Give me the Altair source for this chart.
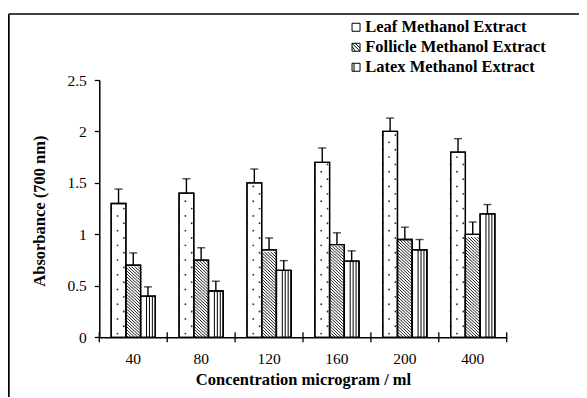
import math
import altair as alt
import pandas as pd

# ---------------- data ----------------
concentrations = ["40", "80", "120", "160", "200", "400"]
series_names = ["Leaf Methanol Extract", "Follicle Methanol Extract", "Latex Methanol Extract"]
leaf = [1.30, 1.40, 1.50, 1.70, 2.00, 1.80]
leaf_err = [0.14, 0.14, 0.135, 0.14, 0.13, 0.13]
follicle = [0.70, 0.75, 0.85, 0.90, 0.95, 1.00]
follicle_err = [0.12, 0.12, 0.115, 0.115, 0.12, 0.12]
latex = [0.40, 0.45, 0.65, 0.74, 0.85, 1.20]
latex_err = [0.09, 0.095, 0.095, 0.10, 0.10, 0.09]
y_ticks = [0, 0.5, 1, 1.5, 2, 2.5]

# ---------------- geometry ----------------
W, H, YMAX = 407.4, 257.3, 2.5
PAD_IN, PAD_OUT = 0.35, 0.175
step = W / (len(concentrations) - PAD_IN + 2 * PAD_OUT)
bar_w = step * (1 - PAD_IN) / 3
K = 5
slot_w = bar_w / K
px_per_unit = H / YMAX
slots = list(range(3 * K))

values = [leaf, follicle, latex]
errors = [leaf_err, follicle_err, latex_err]
rows = []
for s, name in enumerate(series_names):
    for i, c in enumerate(concentrations):
        v = values[s][i]
        e = errors[s][i]
        rows.append({"conc": c, "series": name, "value": v, "top": v + e})
main = pd.DataFrame(rows)
cats = pd.DataFrame({"conc": concentrations})

# pattern table (derived from the values)
prow = []
h_u = slot_w / px_per_unit
for i, c in enumerate(concentrations):
    v = follicle[i]
    n = int(math.floor(v / h_u))
    for r in range(n):
        for k in range(K):
            prow.append({"conc": c, "slot": 1 * K + k, "y": (r + 0.5) * h_u, "kind": "hatch"})
    v = leaf[i]
    d_u = (bar_w / 2) / px_per_unit
    j = 0
    while (j + 0.5) * d_u < v - 0.02:
        y = (j + 0.5) * d_u
        if j % 2 == 0:
            prow.append({"conc": c, "slot": 2, "y": y, "kind": "dot"})
        else:
            prow.append({"conc": c, "slot": 0, "y": y, "kind": "dot"})
            prow.append({"conc": c, "slot": K - 1, "y": y, "kind": "dot"})
        j += 1
    v = latex[i]
    for k in (2, 4):
        prow.append({"conc": c, "slot": 2 * K + k, "y": v, "kind": "stripe"})
pattern = pd.DataFrame(prow)

FONT = "Liberation Serif"

x_scale = alt.Scale(domain=concentrations, paddingInner=PAD_IN, paddingOuter=PAD_OUT)
y_scale = alt.Scale(domain=[0, YMAX], nice=False, zero=True)
off_series = alt.XOffset("series:N", scale=alt.Scale(domain=series_names, paddingInner=0, paddingOuter=0))
off_slot = alt.XOffset("slot:O", scale=alt.Scale(domain=slots, paddingInner=0, paddingOuter=0))

x_bottom = alt.X(
    "conc:N", scale=x_scale, sort=concentrations,
    axis=alt.Axis(
        orient="bottom", ticks=False, domainColor="black", domainWidth=1.5, labelAngle=0,
        labelPadding=14, labelFont=FONT, labelFontSize=15.5, labelColor="black",
        labelBaseline="top",
        title="Concentration microgram / ml", titleFont=FONT, titleFontSize=16.5,
        titleFontWeight="bold", titleColor="black", titleY=42, titleBaseline="middle",
    ),
)
x_none = alt.X("conc:N", scale=x_scale, sort=concentrations, axis=None)

y_axis = alt.Axis(
    values=y_ticks, format="~g", grid=False, ticks=True, tickSize=5, tickColor="black",
    tickWidth=1.3, domainColor="black", domainWidth=1.5, labelPadding=8, labelFont=FONT,
    labelFontSize=15.5, labelColor="black",
    title="Absorbance (700 nm)", titleFont=FONT, titleFontSize=16.5, titleFontWeight="bold",
    titleColor="black", titleX=-60, titleY=H / 2 + 2, titleAngle=270, titleBaseline="middle",
    titleAlign="center",
)

bars = alt.Chart(main).mark_bar(fill="white", stroke="black", strokeWidth=1.3).encode(
    x=x_bottom, xOffset=off_series,
    y=alt.Y("value:Q", scale=y_scale, axis=y_axis, stack=None),
)

hatch = alt.Chart(pattern).transform_filter(alt.datum.kind == "hatch").mark_point(
    shape="M-1,-1L1,1", size=(slot_w * 1.1) ** 2, filled=False, stroke="black",
    strokeWidth=0.9, opacity=1,
).encode(x=x_none, xOffset=off_slot, y=alt.Y("y:Q", scale=y_scale, axis=None))

dots = alt.Chart(pattern).transform_filter(alt.datum.kind == "dot").mark_circle(
    size=3.5, color="#333333", opacity=1,
).encode(x=x_none, xOffset=off_slot, y=alt.Y("y:Q", scale=y_scale, axis=None))

stripes = alt.Chart(pattern).transform_filter(alt.datum.kind == "stripe").mark_bar(
    fillOpacity=0, stroke="black", strokeWidth=1,
).encode(x=x_none, xOffset=off_slot, y=alt.Y("y:Q", scale=y_scale, axis=None, stack=None))

outlines = alt.Chart(main).mark_bar(fillOpacity=0, stroke="black", strokeWidth=1.3).encode(
    x=x_none, xOffset=off_series,
    y=alt.Y("value:Q", scale=y_scale, axis=None, stack=None),
)

whiskers = alt.Chart(main).mark_rule(color="black", strokeWidth=1.4).encode(
    x=x_none, xOffset=off_series,
    y=alt.Y("value:Q", scale=y_scale, axis=None), y2="top:Q",
)

caps = alt.Chart(main).mark_tick(color="black", thickness=1.4, size=8, orient="horizontal").encode(
    x=x_none, xOffset=off_series, y=alt.Y("top:Q", scale=y_scale, axis=None),
)

# x-axis ticks crossing the axis line at the category boundaries
xticks = alt.Chart(cats).mark_rule(color="black", strokeWidth=1.3).encode(
    x=alt.X("conc:N", scale=alt.Scale(domain=concentrations, paddingInner=0, paddingOuter=0),
            bandPosition=0, axis=None),
    y=alt.value(H - 5), y2=alt.value(H + 5),
)
xtick_end = alt.Chart(alt.Data(values=[{"a": 1}])).mark_rule(color="black", strokeWidth=1.3).encode(
    x=alt.value(W), y=alt.value(H - 5), y2=alt.value(H + 5),
)

legend_paths = [
    "M-1,-1H1V1H-1Z",
    "M-1,-1H1V1H-1Z M-1,-1L1,1 M-1,-0.2L-0.2,1 M-0.2,-1L1,0.2",
    "M-1,-1H1V1H-1Z M-0.5,-1V1",
]
legend_layer = alt.Chart(main).mark_point(opacity=0, filled=False).encode(
    x=x_none, xOffset=off_series, y=alt.Y("value:Q", scale=y_scale, axis=None),
    shape=alt.Shape(
        "series:N", scale=alt.Scale(domain=series_names, range=legend_paths),
        legend=alt.Legend(
            orient="none", legendX=248.5, legendY=-61, title=None, padding=0,
            labelFont=FONT, labelFontSize=16.5, labelFontWeight="bold", labelColor="black",
            labelLimit=0, symbolSize=64, symbolStrokeColor="black", symbolFillColor="white",
            symbolStrokeWidth=1, symbolOpacity=1, rowPadding=3, labelOffset=1,
        ),
    ),
)

frame_data = alt.Data(values=[{"a": 1}])
frame_top = alt.Chart(frame_data).mark_rule(color="black", strokeWidth=1.6).encode(
    x=alt.value(-90.5), x2=alt.value(490), y=alt.value(-66),
)
frame_left = alt.Chart(frame_data).mark_rule(color="black", strokeWidth=1.8).encode(
    x=alt.value(-90.5), y=alt.value(-66), y2=alt.value(330),
)
# small grey marker at the top edge of the page
marker = alt.Chart(frame_data).mark_point(
    shape="triangle-down", filled=True, color="#c8c8c8", opacity=1, size=40,
).encode(x=alt.value(122), y=alt.value(-77))

chart = alt.layer(
    bars, hatch, dots, stripes, outlines, whiskers, caps, xticks, xtick_end,
    legend_layer, frame_top, frame_left, marker
).resolve_scale(xOffset="independent", x="independent").resolve_axis(
    x="independent", y="independent"
).properties(
    width=W, height=H,
    autosize=alt.AutoSizeParams(type="none"),
    padding={"left": 91.3, "top": 72, "right": 72, "bottom": 60},
).configure_view(stroke=None)

chart.save("out.html", embed_options={"renderer": "svg", "actions": False})
